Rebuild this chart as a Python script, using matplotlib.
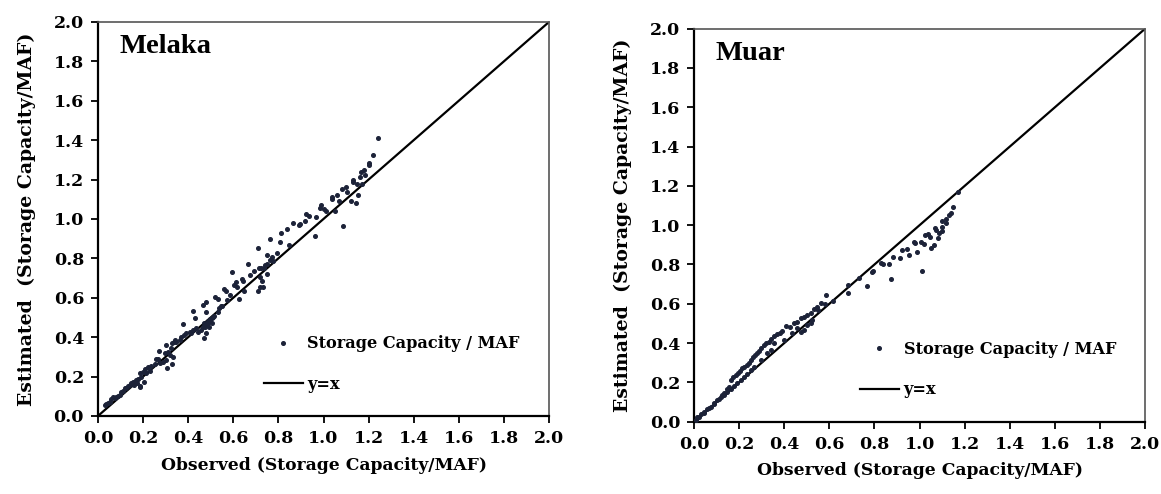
import matplotlib
matplotlib.use('Agg')
import matplotlib.pyplot as plt
from matplotlib.ticker import FormatStrFormatter

# Melaka: observed vs estimated storage capacity
melaka_obs = [1.242, 1.218, 1.202, 1.203, 1.181, 1.165, 1.186, 1.163, 1.132, 1.132,
              1.150, 1.171, 1.100, 1.083, 1.104, 1.060, 1.038, 1.039, 1.153, 1.070,
              1.121, 1.143, 0.989, 0.983, 1.002, 1.012, 1.051, 0.924, 0.936, 0.967,
              0.918, 0.896, 1.088, 0.961, 0.863, 0.890, 0.813, 0.837, 0.807, 0.763,
              0.846, 0.792, 0.710, 0.748, 0.773, 0.775, 0.763, 0.748, 0.742, 0.735,
              0.724, 0.715, 0.748, 0.665, 0.594, 0.693, 0.673, 0.640, 0.643, 0.611,
              0.604, 0.615, 0.559, 0.568, 0.584, 0.718, 0.727, 0.733, 0.718, 0.710,
              0.624, 0.649, 0.517, 0.534, 0.479, 0.464, 0.544, 0.538, 0.479, 0.514,
              0.506, 0.497, 0.489, 0.470, 0.482, 0.464, 0.494, 0.504, 0.421, 0.429,
              0.377, 0.510, 0.495, 0.488, 0.473, 0.458, 0.443, 0.436, 0.421, 0.414,
              0.406, 0.392, 0.381, 0.369, 0.362, 0.347, 0.337, 0.328, 0.470, 0.480,
              0.340, 0.303, 0.270, 0.296, 0.310, 0.325, 0.318, 0.333, 0.303, 0.288,
              0.273, 0.259, 0.251, 0.236, 0.222, 0.207, 0.200, 0.185, 0.214, 0.229,
              0.192, 0.177, 0.163, 0.148, 0.133, 0.126, 0.118, 0.103, 0.096, 0.081,
              0.067, 0.059, 0.052, 0.037, 0.030, 0.304, 0.327, 0.267, 0.186, 0.186,
              0.204, 0.045, 0.075, 0.090, 0.110, 0.140, 0.155, 0.170, 0.160, 0.175,
              0.530, 0.550, 0.570]
melaka_est = [1.413, 1.325, 1.283, 1.276, 1.249, 1.237, 1.225, 1.212, 1.198, 1.186,
              1.176, 1.176, 1.161, 1.151, 1.139, 1.124, 1.110, 1.103, 1.124, 1.091,
              1.091, 1.080, 1.069, 1.057, 1.051, 1.041, 1.042, 1.024, 1.015, 1.010,
              0.991, 0.975, 0.966, 0.915, 0.978, 0.971, 0.927, 0.948, 0.883, 0.897,
              0.866, 0.829, 0.854, 0.815, 0.809, 0.788, 0.792, 0.772, 0.765, 0.751,
              0.751, 0.753, 0.721, 0.773, 0.729, 0.736, 0.717, 0.697, 0.685, 0.679,
              0.665, 0.653, 0.643, 0.636, 0.614, 0.707, 0.684, 0.653, 0.653, 0.636,
              0.596, 0.635, 0.606, 0.596, 0.579, 0.565, 0.558, 0.548, 0.528, 0.508,
              0.499, 0.491, 0.482, 0.474, 0.464, 0.453, 0.450, 0.471, 0.535, 0.499,
              0.465, 0.504, 0.487, 0.471, 0.453, 0.437, 0.428, 0.445, 0.437, 0.420,
              0.428, 0.420, 0.411, 0.403, 0.386, 0.377, 0.377, 0.369, 0.394, 0.420,
              0.386, 0.360, 0.331, 0.318, 0.327, 0.344, 0.310, 0.301, 0.284, 0.276,
              0.271, 0.288, 0.264, 0.254, 0.247, 0.237, 0.225, 0.217, 0.220, 0.230,
              0.200, 0.186, 0.174, 0.165, 0.152, 0.141, 0.141, 0.123, 0.107, 0.098,
              0.095, 0.085, 0.073, 0.061, 0.056, 0.245, 0.264, 0.289, 0.154, 0.149,
              0.174, 0.065, 0.090, 0.100, 0.125, 0.155, 0.170, 0.180, 0.158, 0.165,
              0.528, 0.560, 0.590]

# Muar
muar_obs = [1.172, 1.150, 1.138, 1.132, 1.118, 1.100, 1.118, 1.100, 1.101, 1.070,
            1.075, 1.085, 1.083, 1.064, 1.051, 1.024, 1.038, 1.047, 1.007, 1.020,
            0.976, 0.980, 0.990, 0.943, 0.924, 0.953, 0.914, 0.881, 0.866, 0.837,
            0.828, 0.792, 0.788, 1.011, 0.875, 0.769, 0.733, 0.684, 0.682, 0.618,
            0.584, 0.562, 0.547, 0.532, 0.517, 0.503, 0.488, 0.473, 0.458, 0.443,
            0.426, 0.407, 0.392, 0.381, 0.370, 0.355, 0.343, 0.333, 0.318, 0.310,
            0.296, 0.288, 0.281, 0.269, 0.263, 0.254, 0.244, 0.234, 0.222, 0.214,
            0.204, 0.195, 0.185, 0.174, 0.166, 0.155, 0.148, 0.133, 0.126, 0.118,
            0.103, 0.089, 0.074, 0.059, 0.044, 0.030, 0.015, 0.473, 0.488, 0.503,
            0.517, 0.525, 0.458, 0.436, 0.399, 0.355, 0.340, 0.325, 0.296, 0.266,
            0.251, 0.237, 0.222, 0.207, 0.192, 0.177, 0.163, 0.148, 0.133, 0.111,
            0.089, 0.067, 0.044, 0.022, 0.007, 0.580, 0.550]
muar_est = [1.167, 1.094, 1.061, 1.054, 1.030, 1.023, 1.013, 0.992, 0.972, 0.984,
            0.976, 0.959, 0.933, 0.899, 0.884, 0.950, 0.955, 0.941, 0.916, 0.904,
            0.916, 0.908, 0.865, 0.877, 0.872, 0.848, 0.835, 0.840, 0.803, 0.803,
            0.809, 0.768, 0.763, 0.767, 0.728, 0.691, 0.733, 0.696, 0.653, 0.614,
            0.646, 0.602, 0.585, 0.572, 0.552, 0.543, 0.535, 0.526, 0.509, 0.501,
            0.484, 0.487, 0.463, 0.450, 0.444, 0.438, 0.419, 0.407, 0.402, 0.390,
            0.373, 0.361, 0.351, 0.339, 0.327, 0.314, 0.300, 0.287, 0.280, 0.272,
            0.260, 0.250, 0.238, 0.226, 0.212, 0.178, 0.165, 0.148, 0.136, 0.128,
            0.111, 0.094, 0.077, 0.063, 0.051, 0.039, 0.026, 0.458, 0.467, 0.492,
            0.501, 0.518, 0.475, 0.450, 0.416, 0.399, 0.365, 0.348, 0.314, 0.280,
            0.263, 0.245, 0.228, 0.210, 0.195, 0.180, 0.165, 0.150, 0.135, 0.115,
            0.092, 0.070, 0.046, 0.024, 0.009, 0.600, 0.570]

line_xy = [0.0, 2.0]
ticks = [0.0, 0.2, 0.4, 0.6, 0.8, 1.0, 1.2, 1.4, 1.6, 1.8, 2.0]

SERIF = 'DejaVu Serif'

fig = plt.figure(figsize=(11.61, 4.94), dpi=100)
ax1 = fig.add_axes([0.0844, 0.158, 0.3885, 0.7976])
ax2 = fig.add_axes([0.5978, 0.1464, 0.3885, 0.7955])

panels = [(ax1, melaka_obs, melaka_est, 'Melaka'), (ax2, muar_obs, muar_est, 'Muar')]
for ax, obs, est, name in panels:
    ax.plot(obs, est, 'o', ms=2.6, color='#1c2238', mec='#1c2238',
            label='Storage Capacity / MAF', zorder=3)
    ax.plot(line_xy, line_xy, '-', color='black', lw=1.6, label='y=x', zorder=2)
    ax.set_xlim(0, 2.0)
    ax.set_ylim(0, 2.0)
    ax.set_xticks(ticks)
    ax.set_yticks(ticks)
    ax.xaxis.set_major_formatter(FormatStrFormatter('%.1f'))
    ax.yaxis.set_major_formatter(FormatStrFormatter('%.1f'))
    ax.tick_params(direction='out', length=5, width=1.3, pad=5, top=False, right=False)
    for lab in ax.get_xticklabels() + ax.get_yticklabels():
        lab.set_fontfamily(SERIF)
        lab.set_fontweight('bold')
        lab.set_fontsize(12.5)
    for side in ['left', 'bottom']:
        ax.spines[side].set_linewidth(1.6)
        ax.spines[side].set_color('black')
    for side in ['top', 'right']:
        ax.spines[side].set_linewidth(1.2)
        ax.spines[side].set_color('#555555')
    ax.set_xlabel('Observed (Storage Capacity/MAF)', fontfamily=SERIF,
                  fontweight='bold', fontsize=12.3, labelpad=7)
    ax.set_ylabel('Estimated  (Storage Capacity/MAF)', fontfamily=SERIF,
                  fontweight='bold', fontsize=13.6, labelpad=13)
    ax.text(0.048, 0.937, name, transform=ax.transAxes, fontfamily='Liberation Serif',
            fontweight='bold', fontsize=20.5, va='center', ha='left')
    ax.legend(loc='upper left', bbox_to_anchor=(0.368, 0.205), frameon=False,
              numpoints=1, handlelength=2.4, handletextpad=0.3, labelspacing=1.45,
              borderpad=0, borderaxespad=0,
              prop={'family': SERIF, 'weight': 'bold', 'size': 11.6})

fig.savefig('out.png', dpi=100)
